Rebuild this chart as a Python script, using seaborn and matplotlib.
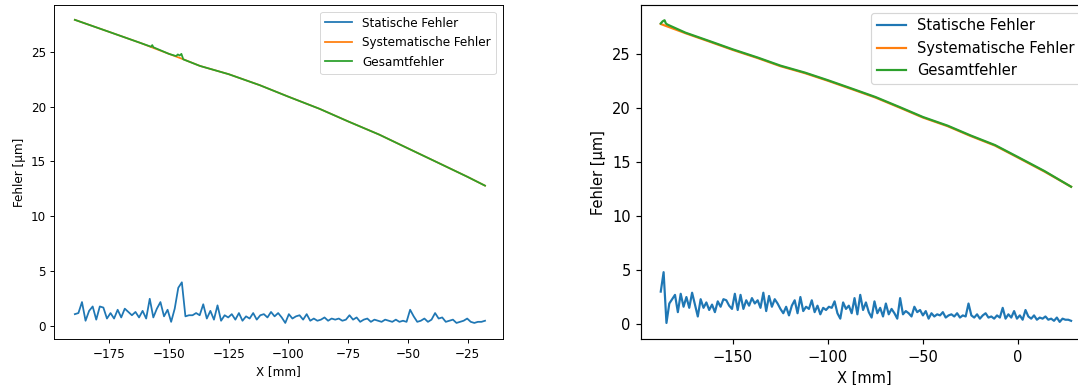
import numpy as np
import pandas as pd
import matplotlib
matplotlib.use("Agg")
import matplotlib.pyplot as plt
from matplotlib.font_manager import FontProperties
import seaborn as sns

# ---------------- data: left panel ----------------
x_left_start, x_left_end = -189.4, -17.7
stat_left = [1.1, 1.2, 2.2, 0.5, 1.4, 1.8, 0.6, 1.8, 1.7, 0.7,
             1.2, 0.7, 1.5, 0.8, 1.6, 1.3, 1.0, 1.3, 0.8, 1.4,
             0.7, 2.5, 0.8, 1.6, 2.2, 0.9, 1.5, 0.4, 1.6, 3.5,
             4.0, 0.9, 1.0, 1.0, 1.2, 1.0, 2.0, 0.7, 1.4, 0.6,
             1.9, 0.5, 1.0, 0.8, 1.1, 0.6, 1.2, 0.5, 0.9, 0.7,
             1.2, 0.6, 1.0, 1.1, 0.8, 1.3, 0.9, 1.2, 0.8, 0.3,
             1.1, 0.7, 0.9, 1.0, 0.6, 1.1, 0.5, 0.7, 0.5, 0.6,
             0.8, 0.5, 0.7, 0.6, 0.7, 0.5, 0.6, 1.0, 0.6, 0.8,
             0.4, 0.6, 0.7, 0.4, 0.6, 0.5, 0.4, 0.6, 0.5, 0.4,
             0.6, 0.4, 0.5, 0.4, 1.5, 0.9, 0.4, 0.5, 0.7, 0.4,
             0.6, 1.2, 0.7, 0.8, 0.4, 0.5, 0.6, 0.3, 0.4, 0.5,
             0.7, 0.4, 0.3, 0.4, 0.4, 0.5]
sys_left_x = [-189.4, -175, -162, -150, -144.5, -137, -125, -112, -100,
              -87, -75, -62, -50, -37, -25, -17.7]
sys_left_y = [27.9, 26.8, 25.8, 24.8, 24.35, 23.7, 22.95, 21.95, 20.9,
              19.8, 18.65, 17.45, 16.2, 14.85, 13.6, 12.8]
ges_left_x = [-189.4, -175, -162, -157.5, -157, -156.5, -150, -147, -146.3,
              -145.5, -144.8, -144, -137, -125, -112, -100, -87, -75, -62,
              -50, -37, -25, -17.7]
ges_left_y = [27.9, 26.8, 25.8, 25.45, 25.6, 25.4, 24.8, 24.6, 24.75,
              24.65, 24.8, 24.3, 23.7, 22.95, 21.95, 20.9, 19.8, 18.65, 17.45,
              16.2, 14.85, 13.6, 12.8]

# ---------------- data: right panel ----------------
x_right_start, x_right_end = -188.0, 28.0
stat_right = [3.0, 4.8, 0.1, 1.9, 2.3, 2.7, 1.1, 2.8, 1.6, 2.5,
              1.5, 2.9, 1.8, 0.7, 2.3, 1.5, 2.0, 1.3, 1.8, 1.1,
              2.1, 1.6, 2.3, 2.2, 1.7, 1.4, 2.8, 1.3, 2.7, 1.4,
              2.2, 1.7, 2.4, 1.9, 2.2, 1.5, 2.9, 1.2, 2.6, 1.6,
              2.3, 1.9, 1.4, 1.0, 1.6, 0.8, 1.7, 2.2, 1.0, 2.5,
              1.2, 1.6, 1.4, 2.2, 1.1, 1.7, 0.9, 1.5, 1.3, 1.6,
              1.5, 2.1, 1.0, 0.5, 2.0, 1.4, 1.7, 1.0, 2.4, 0.9,
              2.7, 1.3, 2.0, 1.1, 0.6, 2.1, 1.0, 1.5, 0.7, 1.9,
              0.9, 1.4, 1.0, 0.5, 2.4, 0.9, 1.2, 1.0, 0.7, 1.6,
              1.1, 1.3, 0.8, 1.2, 0.5, 1.0, 0.7, 0.9, 0.8, 1.1,
              0.6, 0.8, 0.9, 0.7, 1.0, 0.6, 0.8, 0.7, 1.9, 0.8,
              0.6, 0.9, 0.5, 0.8, 1.0, 0.6, 0.7, 0.5, 0.8, 0.6,
              1.5, 0.5, 0.9, 0.6, 1.2, 0.5, 0.8, 0.4, 1.3, 0.7,
              0.5, 0.8, 0.4, 0.6, 0.5, 0.7, 0.4, 0.5, 0.3, 0.6,
              0.2, 0.5, 0.4, 0.4, 0.3]
sys_right_x = [-188, -175, -162, -150, -137, -125, -112, -100, -87, -75,
               -62, -50, -37, -25, -12, 0, 14, 28]
sys_right_y = [27.75, 26.9, 26.1, 25.35, 24.6, 23.85, 23.2, 22.5, 21.7, 20.95,
               20.0, 19.1, 18.3, 17.4, 16.5, 15.4, 14.1, 12.7]
ges_right_x = [-188, -187, -186, -185.3, -184.5, -175, -162, -150, -137, -125,
               -112, -100, -87, -75, -62, -50, -37, -25, -12, 0, 14, 28]
ges_right_y = [27.8, 28.0, 28.1, 27.8, 27.7, 26.95, 26.15, 25.4, 24.65, 23.9,
               23.25, 22.55, 21.75, 21.0, 20.05, 19.15, 18.35, 17.45, 16.55,
               15.45, 14.15, 12.7]

labels = ["Statische Fehler", "Systematische Fehler", "Gesamtfehler"]
colors = ["#1f77b4", "#ff7f0e", "#2ca02c"]

plt.rcParams['font.family'] = ['DejaVu Sans']

W, H = 1078, 385
fig = plt.figure(figsize=(W / 100, H / 100), dpi=100)


def make_axes(l, r, t, b):
    return fig.add_axes([l / W, 1 - b / H, (r - l) / W, (b - t) / H])


def draw(ax, xs, stat, sx, sy, gx, gy, f, fs, stretch, xlim, ylim, xticks):
    lw = 1.5 * f
    df_stat = pd.DataFrame({"x": xs, "y": stat})
    df_sys = pd.DataFrame({"x": sx, "y": sy})
    df_ges = pd.DataFrame({"x": gx, "y": gy})
    for df, lab, c in zip([df_stat, df_sys, df_ges], labels, colors):
        sns.lineplot(data=df, x="x", y="y", ax=ax, color=c, linewidth=lw,
                     label=lab, estimator=None, sort=False)
    ax.set_xlim(*xlim)
    ax.set_ylim(*ylim)
    ax.set_xticks(xticks)
    ax.set_yticks([0, 5, 10, 15, 20, 25])
    ax.set_xlabel("X [mm]", fontsize=fs, labelpad=4 * f, fontstretch=stretch)
    ax.set_ylabel("Fehler [µm]", fontsize=fs, labelpad=4 * f, fontstretch=stretch)
    ax.tick_params(labelsize=fs, length=3.5 * f, width=0.8 * f, pad=3.5 * f,
                   color="black", labelcolor="black")
    for lab in ax.get_xticklabels() + ax.get_yticklabels():
        lab.set_fontstretch(stretch)
    for s in ax.spines.values():
        s.set_linewidth(0.8 * f)
        s.set_color("black")
    ax.grid(False)
    ax.set_facecolor("white")
    prop = FontProperties(family="DejaVu Sans", size=fs, stretch=stretch)
    leg = ax.legend(loc="upper right", prop=prop, frameon=True,
                    borderaxespad=0.5, handlelength=2.0)
    leg.get_frame().set_linewidth(0.8 * f)
    for line in leg.get_lines():
        line.set_linewidth(lw)


fL = 0.85
axL = make_axes(54.3, 502.7, 5.0, 339.3)
xsL = np.linspace(x_left_start, x_left_end, len(stat_left))
draw(axL, xsL, stat_left, sys_left_x, sys_left_y, ges_left_x, ges_left_y,
     fL, 9.5, "condensed", (-198.0, -10.3), (-1.19, 29.25),
     [-175, -150, -125, -100, -75, -50, -25])

fR = 1.05
axR = make_axes(641.0, 1088.0, 5.3, 339.3)
xsR = np.linspace(x_right_start, x_right_end, len(stat_right))
draw(axR, xsR, stat_right, sys_right_x, sys_right_y, ges_right_x, ges_right_y,
     fR, 10.5, "normal", (-198.4, 36.9), (-1.41, 29.48), [-150, -100, -50, 0])

fig.savefig("out.png", dpi=100, facecolor="white")
